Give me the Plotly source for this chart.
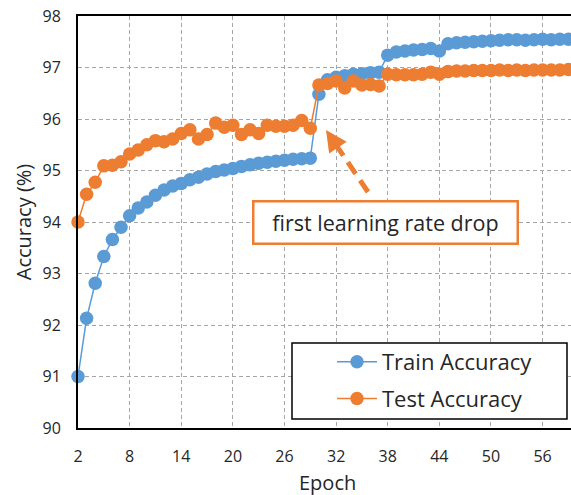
import plotly.graph_objects as go

epochs = list(range(2, 60))

train_acc = [
    91.00, 92.13, 92.81, 93.33, 93.66, 93.90, 94.12, 94.27, 94.39, 94.52,
    94.62, 94.70, 94.75, 94.82, 94.87, 94.93, 94.98, 95.01, 95.04, 95.08,
    95.11, 95.14, 95.16, 95.18, 95.20, 95.22, 95.23, 95.24, 96.48, 96.76,
    96.81, 96.84, 96.87, 96.88, 96.90, 96.91, 97.24, 97.30, 97.32, 97.34,
    97.35, 97.37, 97.32, 97.46, 97.48, 97.49, 97.50, 97.51, 97.52, 97.53,
    97.54, 97.54, 97.53, 97.54, 97.55, 97.54, 97.55, 97.55,
]

test_acc = [
    94.00, 94.54, 94.77, 95.09, 95.10, 95.17, 95.32, 95.40, 95.50, 95.58,
    95.56, 95.61, 95.72, 95.79, 95.61, 95.70, 95.92, 95.84, 95.88, 95.70,
    95.79, 95.72, 95.88, 95.86, 95.86, 95.88, 95.97, 95.82, 96.66, 96.69,
    96.74, 96.60, 96.74, 96.66, 96.67, 96.64, 96.87, 96.86, 96.86, 96.86,
    96.87, 96.91, 96.87, 96.92, 96.93, 96.93, 96.94, 96.94, 96.94, 96.95,
    96.94, 96.95, 96.94, 96.95, 96.95, 96.95, 96.95, 96.96,
]

x_ticks = [2, 8, 14, 20, 26, 32, 38, 44, 50, 56]
y_ticks = [90, 91, 92, 93, 94, 95, 96, 97, 98]

BLUE = "#5B9BD5"
ORANGE = "#ED7D31"
FONT = "Open Sans"
TXT = "#262626"

W, H = 571, 495
L, R, T, B = 78, 0, 16, 67


def paper(px, py):
    return (px - L) / (W - L - R), (H - B - py) / (H - T - B)


fig = go.Figure()
fig.add_trace(go.Scatter(
    x=epochs, y=train_acc, name="Train Accuracy", mode="lines+markers",
    line=dict(color=BLUE, width=1.5), marker=dict(color=BLUE, size=13.5),
    cliponaxis=False, legendgroup="a",
))
fig.add_trace(go.Scatter(
    x=epochs, y=test_acc, name="Test Accuracy", mode="lines+markers",
    line=dict(color=ORANGE, width=1.5), marker=dict(color=ORANGE, size=13.5),
    cliponaxis=False, legendgroup="b",
))

# legend box
bx0, by0 = paper(292, 419)
bx1, by1 = paper(567, 343)
fig.add_shape(type="rect", xref="paper", yref="paper", x0=bx0, y0=by0, x1=bx1, y1=by1,
              line=dict(color="black", width=1.5), fillcolor="white", layer="above")

# dashed arrow
tip = (326, 130)
tail = (368, 192)
dx, dy = tip[0] - tail[0], tip[1] - tail[1]
ln = (dx * dx + dy * dy) ** 0.5
ux, uy = dx / ln, dy / ln
head = 20
base = (tip[0] - ux * head, tip[1] - uy * head)
sx0, sy0 = paper(*tail)
sx1, sy1 = paper(*base)
fig.add_shape(type="line", xref="paper", yref="paper", x0=sx0, y0=sy0, x1=sx1, y1=sy1,
              line=dict(color=ORANGE, width=5, dash="14px,8px"))
tx, ty = paper(*tip)
fig.add_annotation(xref="paper", yref="paper", x=tx, y=ty, text="", showarrow=True,
                   ax=-ux * (head + 2), ay=-uy * (head + 2), axref="pixel", ayref="pixel",
                   arrowhead=2, arrowsize=0.85, arrowwidth=5, arrowcolor=ORANGE, standoff=0)

# text box
cx, cy = paper(385, 222.5)
fig.add_annotation(xref="paper", yref="paper", x=cx, y=cy, text="first learning rate drop",
                   showarrow=False, font=dict(family=FONT, size=21.5, color=TXT),
                   bordercolor=ORANGE, borderwidth=2.5, borderpad=3, bgcolor="white",
                   width=256, height=34, align="center")

# x-axis title
ex, ey = paper(327, 482)
fig.add_annotation(xref="paper", yref="paper", x=ex, y=ey, text="Epoch", showarrow=False,
                   xanchor="center", yanchor="middle", font=dict(family=FONT, size=20, color=TXT))

lx, ly = paper(332, 341)
grid = dict(showgrid=True, gridcolor="#A6A6A6", gridwidth=1, griddash="4px,3px")
fig.update_layout(
    width=W, height=H,
    margin=dict(l=L, r=R, t=T, b=B),
    plot_bgcolor="white", paper_bgcolor="white",
    font=dict(family=FONT, color=TXT),
    showlegend=True,
    legend=dict(x=lx, y=ly, xanchor="left", yanchor="top", bgcolor="rgba(0,0,0,0)",
                font=dict(family=FONT, size=22, color=TXT),
                itemwidth=40, tracegroupgap=5),
    xaxis=dict(range=[2, 59.3], tickvals=x_ticks, ticktext=[str(v) for v in x_ticks],
               showline=True, linecolor="black", linewidth=2, mirror=True,
               ticks="outside", ticklen=13, tickcolor="rgba(0,0,0,0)",
               tickfont=dict(size=16, color=TXT), zeroline=False, automargin=False, **grid),
    yaxis=dict(range=[90, 98], tickvals=y_ticks, ticktext=[str(v) for v in y_ticks],
               showline=True, linecolor="black", linewidth=2, mirror=False,
               ticks="outside", ticklen=12, tickcolor="rgba(0,0,0,0)",
               tickfont=dict(size=16, color=TXT), zeroline=False, automargin=False,
               title=dict(text="Accuracy (%)", font=dict(size=20, color=TXT), standoff=6), **grid),
)

fig.write_html("out.html", config={"displayModeBar": False},
               post_script="document.body.style.margin='0';document.body.style.overflow='hidden';")
